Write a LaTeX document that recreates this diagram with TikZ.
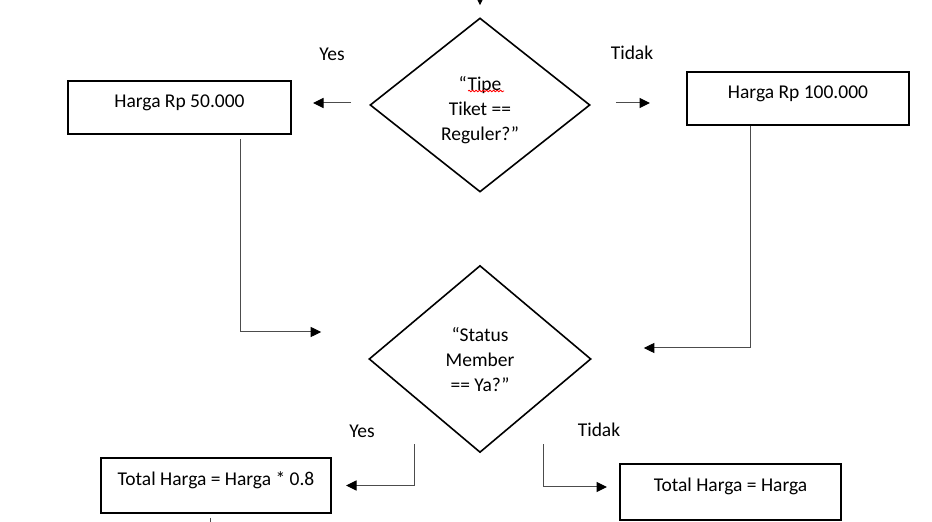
\documentclass[tikz,border=0pt]{standalone}
\usepackage{fontspec}
\setmainfont{Carlito}
\usetikzlibrary{shapes}
\usetikzlibrary{arrows.meta}
\usetikzlibrary{decorations.pathmorphing}
\tikzset{
    pricebox/.style = {rectangle, draw=black, line width=2pt, inner xsep=4pt, inner ysep=0pt, text height=27pt, text depth=27pt},
    decision/.style = {diamond, draw=black, line width=1.6pt, inner sep=0pt, align=center, text depth=0pt},
    answer/.style = {inner sep=0pt},
    edgen/.style = {-{Triangle[length=10.5pt,width=10pt,color=black]}, line width=1pt, draw=black!70},
    edgeo/.style = {line width=1pt, draw=black!70}, % loose end
    every picture/.style={font issue=\fontsize{19.5pt}{25pt}},
    font issue/.style={execute at begin picture={#1\selectfont}}
}
\begin{document}
\begin{tikzpicture}[x=1pt,y=1pt]
\useasboundingbox (0,0) rectangle (932,522);
%
\coordinate (start) at (480,530);
\node[decision, minimum width=220pt, minimum height=174pt, text height=71.5pt] at (480,417) (q1) {“Tipe\\Tiket ==\\Reguler?”};
\node[decision, minimum width=222pt, minimum height=187pt] at (480,163) (q2) {“Status\\Member\\== Ya?”};
%
\node[pricebox, minimum width=223pt, text height=26.5pt, text depth=26.5pt] at (179.5,414.5) (b50) {Harga Rp 50.000};
\node[pricebox, minimum width=222pt, text height=26.5pt, text depth=26.5pt] at (798,423.5) (b100) {Harga Rp 100.000};
\node[pricebox, minimum width=230pt, text height=27.5pt, text depth=27.5pt] at (216,36.5) (tot1) {Total Harga = Harga * 0.8};
\node[pricebox, minimum width=221pt, text height=28pt, text depth=28pt] at (730.5,30) (tot2) {Total Harga = Harga};
%
\node[answer] at (332,468) (yes1) {Yes};
\node[answer] at (632,469) (no1) {Tidak};
\node[answer] at (362,91) (yes2) {Yes};
\node[answer] at (599,92) (no2) {Tidak};
%
\draw[edgen, shorten >=12pt] (start) -- (q1.north);
\draw[edgen, shorten <=18pt, shorten >=21pt] ([yshift=2pt]q1.west) -- ([yshift=2pt]q1.west -| b50.east);
\draw[edgen, shorten <=25pt, shorten >=36pt] ([yshift=2pt]q1.east) -- ([yshift=2pt]q1.east -| b100.west);
\draw[edgen] ([xshift=60.5pt,yshift=-4pt]b50.south) |- ([xshift=-47pt,yshift=27pt]q2.west);
\draw[edgen] ([xshift=-48pt]b100.south) |- ([xshift=52pt,yshift=11pt]q2.east);
\draw[edgen, shorten >=14pt] ([xshift=-66pt,yshift=9pt]q2.south) |- (tot1.east);
\draw[edgen, shorten >=12pt] ([xshift=63pt,yshift=9pt]q2.south) |- ([yshift=5pt]tot2.west);
\draw[edgeo] ([xshift=-6pt,yshift=-4pt]tot1.south) -- ++(0,-10);

\draw[red, line width=0.8pt, decorate, decoration={snake, amplitude=0.8pt, segment length=3.5pt}] (468,431) -- (504,431);

\end{tikzpicture}
\end{document}
